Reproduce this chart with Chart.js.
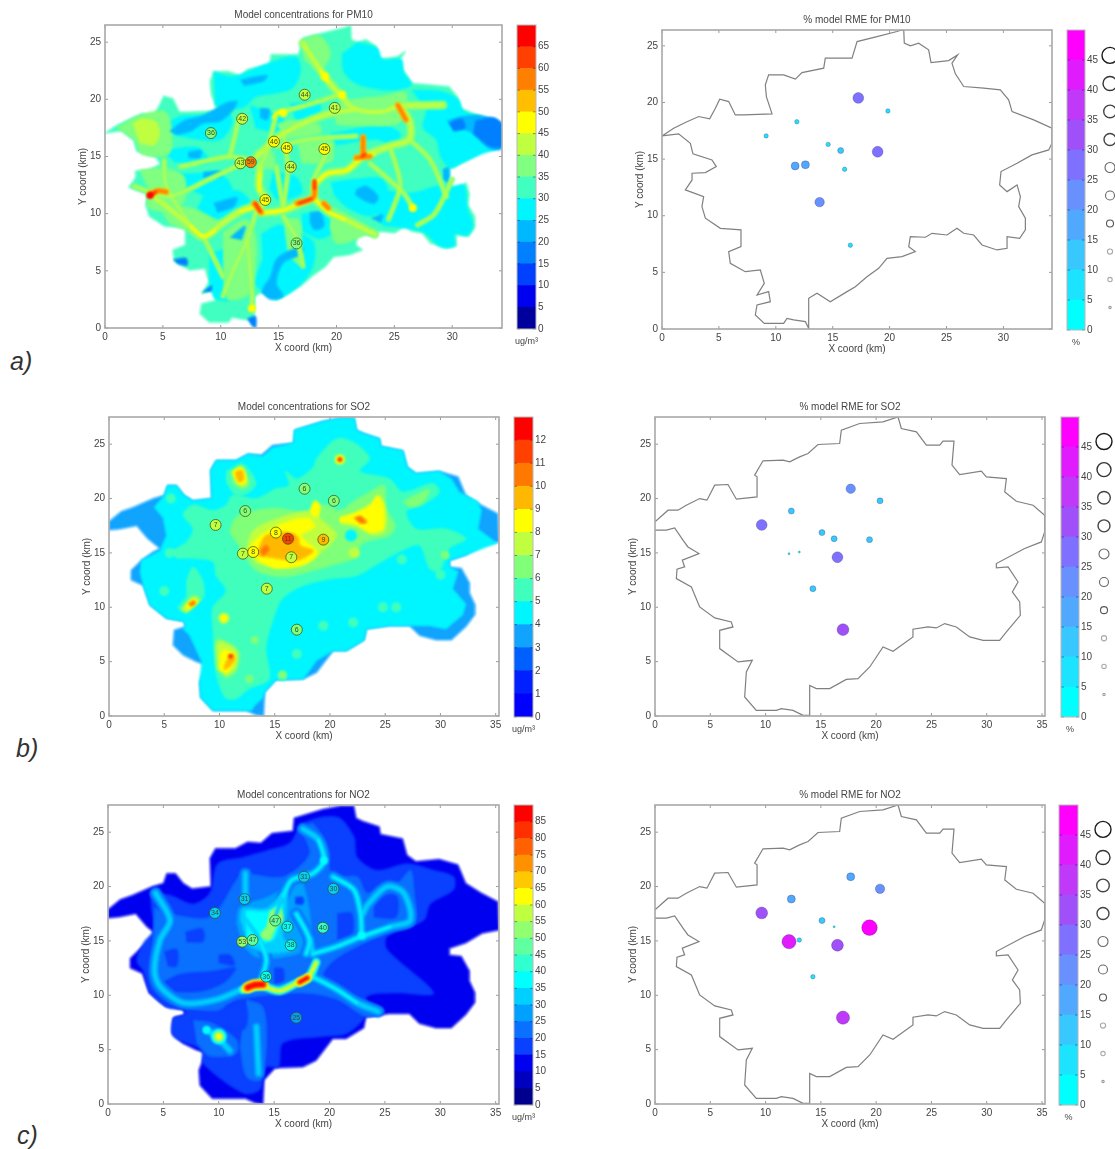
<!DOCTYPE html>
<html>
<head>
<meta charset="utf-8">
<title>Model concentrations and RME</title>
<script src="https://cdn.jsdelivr.net/npm/chart.js@4"></script>
<style>
  html, body { margin: 0; background: #fff; width: 1115px; height: 1149px; overflow: hidden; }
  canvas { position: absolute; filter: blur(.45px); }
  .tag { position: absolute; font: italic 25px "Liberation Sans", Arial, sans-serif; color: #333; }
</style>
</head>
<body>
<div class="tag" style="left:10px;top:347px">a)</div>
<div class="tag" style="left:16px;top:734px">b)</div>
<div class="tag" style="left:17px;top:1121px">c)</div>
<script>
// tick labels
const pmTicks = [0,5,10,15,20,25,30,35,40,45,50,55,60,65];
const so2Ticks = [0,1,2,3,4,5,6,7,8,9,10,11,12];
const no2Ticks = [0,5,10,15,20,25,30,35,40,45,50,55,60,65,70,75,80,85];
const rmeTicks = [0,5,10,15,20,25,30,35,40,45];
const xTicksA = [0,5,10,15,20,25,30];
const xTicksB = [0,5,10,15,20,25,30,35];
const yTicks = [0,5,10,15,20,25];
const legendLevels = [50,45,40,35,30,25,20,15,10,5];

// colour bands, bottom to top
const pmColors = ['#00009c','#0000f0','#0040ff','#0080ff','#00b8ff','#00f6ff','#40ffc0','#80ff80','#c0ff40','#ffff00','#ffbf00','#ff8000','#ff4000','#ff0000'];
const so2Colors = ['#0000ff','#0020ff','#0060ff','#10a4ff','#00f6ff','#40ffbc','#80ff78','#c0ff40','#ffff00','#ffb800','#ff7800','#ff4000','#ff0000'];
const no2Colors = ['#00008f','#0000c0','#0000f0','#0a40ff','#0a70ff','#00a0ff','#00d0ff','#00ffff','#30ffcf','#60ff9f','#90ff70','#c0ff40','#ffff00','#ffc800','#ff9000','#ff6000','#ff3000','#ff0000'];
const rmeColors = ['#00ffff','#1ce3ff','#38c8ff','#50a8ff','#6890ff','#8070ff','#a050f8','#c038f8','#e01cff','#ff00ff'];

// city border (km)
const cityA = [[0,17.05],[1.03,17.73],[2.05,18.23],[3.22,18.76],[4.19,18.55],[4.69,19.49],[5.07,20.29],[5.86,20.08],[6.44,18.9],[7.18,18.9],[9.67,18.99],[9.46,19.64],[9.17,20.52],[9.08,21.55],[9.37,22.44],[10.69,22.44],[11.72,22.06],[12.3,22.64],[14.21,23.03],[14.35,23.91],[16.7,23.91],[17.14,25.38],[18.89,25.82],[20.65,26.27],[21.24,26.47],[21.29,25.24],[21.82,25],[22.55,25.24],[23.43,24.65],[23.64,23.53],[25.19,23.7],[25.98,24.2],[25.48,23.47],[25.78,22.53],[26.51,21.41],[28.27,21.26],[29.73,21.11],[30.46,20.23],[30.76,19.2],[32.66,18.46],[34.27,17.73],[34.27,16.4],[33.98,15.81],[32.51,15.37],[31.2,14.63],[29.79,13.9],[29.67,12.72],[30.32,12.13],[31.2,12.72],[31.49,11.69],[31.34,10.81],[31.93,9.78],[31.93,8.75],[31.43,8.01],[30.32,8.16],[30.32,7.13],[29.44,6.98],[28.12,7.42],[27.39,8.3],[26.51,8.45],[25.92,8.89],[25.04,8.3],[23.73,8.45],[23.14,8.1],[21.82,8.16],[21.68,7.27],[22.26,6.83],[21.09,6.39],[19.77,6.24],[19.04,5.36],[18.01,4.62],[16.99,3.74],[16.26,3.3],[14.79,2.41],[13.62,3.15],[12.89,2.71],[12.89,0.06],[12.6,0.65],[11.57,0.8],[10.98,0.94],[10.69,0.5],[8.99,0.5],[8.2,1.24],[8.35,2.12],[9.52,2.41],[9.37,3.3],[8.35,3],[8.99,4.03],[8.64,5.21],[7.32,5.06],[6,5.8],[5.86,6.83],[6.94,7.27],[6.94,8.75],[5.13,8.89],[3.81,9.78],[3.51,10.81],[3.66,11.69],[2.05,12.28],[2.64,13.16],[2.64,13.75],[3.81,13.81],[4.77,14.34],[4.39,14.93],[2.72,15.46],[2.49,16.4],[1.46,17.23],[0,17.05]];
const cityB = [[0,17.85],[1.18,18.93],[2.08,18.93],[2.83,19.39],[4.04,20],[4.7,19.85],[5.4,21.23],[6.6,21.29],[7.36,19.94],[9.23,20.15],[9.23,22],[9.01,22.15],[9.77,23.47],[11.58,23.53],[12.18,23.37],[13.08,23.83],[13.84,24.14],[14.74,24.97],[16.7,25.06],[16.85,26.29],[18.51,26.9],[20.62,27.06],[21.98,27.5],[22.28,26.44],[23.64,26.13],[24.54,24.91],[25.75,24.91],[26.05,25.28],[27.04,25.28],[26.86,23.07],[27.55,22.21],[29.51,22.52],[29.97,21.99],[31.78,21.84],[31.63,20.61],[32.68,19.75],[34.19,19.39],[35.24,18.47],[35.24,16.93],[34.94,16.01],[33.43,15.4],[30.87,14.02],[30.87,13.62],[31.93,13.71],[32.83,12.33],[32.32,11.41],[32.98,10.49],[33.04,9.26],[31.78,7.73],[31.17,6.96],[29.67,6.96],[28.46,7.27],[27.25,8.19],[26.2,8.5],[25.44,8.1],[24.69,8.19],[23.33,7.98],[23.33,7.27],[21.53,5.95],[20.62,6.35],[19.42,4.51],[18.36,3.44],[17.3,3.37],[15.8,2.52],[14.59,2.52],[13.99,2.82],[13.99,0.06],[13.39,0.06],[12.48,0.52],[11.43,0.67],[10.97,0.52],[9.16,0.52],[8.11,1.75],[8.26,4.05],[8.8,5.12],[7.51,4.97],[5.85,6.2],[5.85,7.88],[7.05,8.19],[6.9,8.65],[5.4,9.02],[4.04,10.03],[3.29,11.87],[1.93,12.64],[1.99,13.5],[2.68,13.71],[2.47,14.33],[3.98,14.94],[2.98,15.55],[2.53,16.17],[1.78,17.3],[1.03,17.09],[0,17.09]];
// the smoother contour edge of the SO2 / NO2 fields
const fieldEdge = [[0,17.9],[1.1,18.8],[2.2,19.2],[4,20],[5,20.3],[5.3,21.2],[6.1,21.2],[6.8,20.3],[7.6,19.8],[9.3,20],[9.2,22.6],[9.7,23.5],[11.5,23.5],[12.6,24.1],[13.8,24],[14.8,24.9],[16.7,25.1],[16.8,26.3],[19.4,27.1],[21,27.4],[22.2,27.4],[22.4,26.3],[23,26],[24.5,25.5],[24.6,24.8],[26.6,24.4],[27,22.9],[27.8,22.3],[29.9,22.5],[31.6,22],[32.3,20.3],[33.7,19.4],[35.2,18.6],[35.3,16],[33.8,15.7],[32.3,14.8],[30.8,14.3],[30.8,13.7],[31.9,13.6],[32.6,12.3],[32.6,11.4],[33.1,10.3],[33.1,9.3],[32.3,8.2],[31,7],[29.6,7],[28.1,7.4],[27.2,8.3],[25.4,8.3],[23.3,8],[23.1,7],[21.5,6],[20.3,6],[18.8,4],[17.6,3.4],[15.1,3.3],[14.1,2.2],[14,0],[13.3,0.1],[12.4,0.5],[9.4,0.5],[8.3,1.7],[8.2,3.1],[8.8,4.7],[7.9,5],[6.7,5.6],[5.8,6.5],[5.9,7.9],[6.9,8.2],[6.8,8.7],[5.2,9],[3.7,10.2],[3.1,12],[2,12.5],[2,13.4],[2.9,14.3],[4,15.1],[4.6,15.4],[3.5,16.3],[2.5,17.5],[1,17.2],[0,17.1]];

// stations
const pmStationX = [17.25,19.85,11.85,9.15,14.6,15.7,18.95,11.7,12.6,16.05,13.85,16.55];
const pmStationY = [20.4,19.25,18.3,17.05,16.3,15.75,15.65,14.4,14.5,14.1,11.2,7.4];
const pmMeasured = [44,41,42,36,46,45,45,43,59,44,45,36];
const pmRme = [27,7,7,7,8,12,27,18,18,7,22,7];
const stationX = [17.7,20.35,12.33,9.65,15.1,16.2,19.4,16.5,12.12,13.05,14.28,17];
const stationY = [20.9,19.79,18.85,17.57,16.87,16.3,16.22,14.6,14.93,15.08,11.71,7.94];
const so2Measured = [6,6,6,7,8,11,9,7,7,8,7,6];
const so2Rme = [21,12,12,28,12,12,12,28,2,2,12,33];
const no2Measured = [31,30,31,34,47,37,40,38,53,47,36,25];
const no2Rme = [18,23,16,32,11,2,47,31,43,8,6,36];

// PM10 field, polygons per band (km)
const pmCyan = [
  [[9.4,22.4],[11,22],[12.5,22.5],[14.2,23.2],[16.5,23.7],[16.9,22.5],[16.2,21],[14.5,20.5],[13,20.2],[12,19.3],[10.5,19.2],[9.5,19.5]],
  [[21.8,25],[23.5,24.5],[24,23.5],[25.6,23.5],[25.8,22.4],[26.5,21.3],[25,20.8],[23,21],[21.5,21.5],[20.6,22.5],[20.5,24]],
  [[26.5,20.8],[29,20.7],[30.5,20],[31,19],[33,18.2],[34.2,17.6],[34.2,15.9],[32.5,15.2],[31,14.5],[29.8,14],[29,15],[28.6,16.5],[27.5,17.5],[27.8,19]],
  [[24.5,12],[26.5,11.8],[29,12.5],[29.7,12.3],[31,12.5],[31.3,10.5],[31.8,9],[31.3,8.1],[30.2,8.2],[30.2,7.2],[29,7.1],[27.5,8.4],[25.5,8.8],[24,9],[23.5,10.2]],
  [[13.5,8.2],[15,9],[16.5,8.5],[18,7.5],[18,5.5],[17,3.9],[15,2.6],[13.6,3.2],[13,4],[13.6,6]],
  [[9,6.5],[11,7],[12.5,6.5],[12.3,4],[11,2.5],[9.5,2.6],[9,4.1]],
  [[5.5,17],[8,16.5],[10,16.5],[11,18],[10.5,19],[8.5,18.6],[6.5,18.5],[5.5,18]],
  [[5,13.8],[7,13.5],[10,13.5],[11,12],[9,11.5],[6.5,12.5]],
  [[8.5,11.6],[11.5,12],[12.5,11],[11.5,10],[9,9.6],[8,10.5]],
  [[14.5,13.6],[16.5,13.2],[17,11.8],[15,11.2],[14.2,12.2]],
  [[19.5,12.7],[21.5,13],[24,13],[24.5,11],[23,9.8],[21,10.5],[19.8,11.6]],
  [[17,10],[19,10],[19.8,8.5],[18.5,7.8],[17,8.5]],
  [[12.5,19.5],[15.5,18.2],[14.8,17.2],[13,17.5]],
  [[16,19.6],[18.5,19.7],[18.5,18.6],[16.5,18]],
  [[19.5,17],[24,17.7],[25.5,17],[25,15.8],[23.5,16.5],[20,16]],
  [[5,15.5],[8,15.8],[9,14.5],[6,14.5]]
];
const pmSky = [
  [[5.6,17.2],[6.8,18.1],[8.5,18.6],[10.5,19.7],[11.4,19.8],[11.1,19.1],[10,18.1],[8.5,17.9],[7.4,17.2],[6.2,16.9]],
  [[29.5,18.1],[30.9,18.5],[32.4,18.6],[34.3,17.8],[34.3,15.7],[33.2,15.7],[31.8,17],[30.1,17.7]],
  [[13.7,3.6],[14.3,4.5],[14.8,6],[16,6.8],[17.1,7],[16.9,6.4],[15.4,5.7],[14.8,3.9],[15.4,2.8],[14.3,2.5],[13.5,3.1]],
  [[21.7,12.1],[22.6,12.4],[23.6,11.5],[23.3,10.9],[22.3,11.2],[21.6,11.7]],
  [[17.7,10.1],[18.6,10.1],[18.9,8.9],[18.1,8.6],[17.7,9.3]],
  [[9.4,10.9],[11.4,11.4],[11.1,10.6],[9.7,10.1]],
  [[10.8,7.9],[12.1,8.9],[11.8,7.7]],
  [[13.4,19.2],[14.2,19.1],[14,18.2],[13.4,18.4]],
  [[11.7,21.7],[14,22.1],[13.7,21.6],[12,21.2]],
  [[8.5,13.6],[10,13.7],[10,13.2],[8.5,13.1]],
  [[7.2,15.4],[8.3,15.5],[8.2,14.9],[7.2,14.9]],
  [[29.2,13.9],[29.7,14],[29.7,12.7],[29.2,13]],
  [[23,9.6],[24,9.9],[23.8,9.2]]
];
const pmBlue = [
  [[32,18.1],[33.5,18.4],[34.3,17.8],[34.3,15.9],[33.2,15.9],[31.8,17]],
  [[29.7,17.9],[30.8,18.3],[31.1,17.5],[30.1,17.2]],
  [[5.9,6],[7,6.1],[7.1,5.5],[6.3,5.6]],
  [[8.4,3.1],[9.2,3.7],[9.2,3.2]],
  [[12.3,0.8],[13,1],[13,0],[12.6,0.3]]
];
const pmGreenAreas = [
  [[1,17.5],[3,18.6],[5.2,18.9],[5.8,17],[5.5,15.2],[3.2,15.2],[2.6,16.4]],
  [[17,25.2],[18.5,25.6],[19.5,24],[18.5,22.5],[17.2,23.5]],
  [[3,13.8],[5,14],[6.8,13.3],[6.8,11],[5.2,10.2],[3.7,10.6],[3.8,12]],
  [[4.8,10.4],[7,10.6],[9,9.8],[10,9],[8.5,7.6],[7,8.5],[5.5,9.2]],
  [[10.2,8.4],[12.2,9.5],[13,8],[13,5.2],[12.5,3],[10.6,2.5],[10.2,5]],
  [[15.4,9.6],[16.8,9.4],[17,7.2],[17,5.4],[15.8,6.4]],
  [[19.6,10.6],[21.2,9.8],[22.8,8.6],[21.8,7.8],[20,7.4],[19.4,8.8]],
  [[16.6,16.4],[19.4,16.6],[19.6,14.6],[17,14.4]],
  [[19.5,19.3],[21.5,20],[24,20.3],[26,20.6],[25.5,18],[22,17.7],[20,17.8]],
  [[14.8,17.8],[16,18.2],[18.5,17.8],[18.6,17],[15.8,16.5]],
  [[13,15.5],[14.4,15.5],[14.6,14],[13.4,14]]
];
const pmLimeAreas = [
  [[2.4,17.9],[3.2,18.3],[4.4,18],[4.7,16.9],[4.2,16],[3,16.2]]
];
const pmMainRoads = [
  [[3.9,11.7],[5.5,10.5],[7.4,8.9],[8.5,8],[10.2,9.2],[11.7,10.2],[13.1,10.6],[13.5,10.1],[15.4,10.3],[16.9,10.9],[18,11.4],[18.1,12.5],[19.2,13.5],[20.9,13.8],[22.3,15],[24.6,15.9],[26.3,16.5],[26.3,18.2],[25.5,19.4]],
  [[17.1,24.9],[19,22],[20.3,20.4],[21.5,19.2],[23.8,18.9],[25.5,19.4],[29.2,19.5]],
  [[18,11.4],[19.4,10.1],[20.7,9.5],[23.3,8.2]],
  [[13.4,14.1],[13.3,12.4],[13.8,11.2],[13.3,10.5]],
  [[13.1,15],[15.4,17],[18.9,18.6],[21.5,19.1]]
];
const pmSideRoads = [
  [[13.1,10.3],[12.3,7.7],[11.1,5.1],[10.2,2.8]],
  [[14.8,14.1],[15.4,10.6]],
  [[12.5,14.7],[10.8,15],[6.5,14.1]],
  [[14.8,18.8],[17.1,19.4],[20.3,20.4]],
  [[22.9,14.4],[25.8,11.8],[26.6,10.5]],
  [[14.8,15.9],[17.7,16.5],[21.7,16.8]],
  [[5.1,14.7],[5.3,12.4],[7.4,8.9]],
  [[15.4,9.8],[16.6,7.7],[17.1,5.4]],
  [[8.5,8],[10.2,4.5]],
  [[12.7,1.8],[12.7,3.1],[12.5,5.4],[12.3,7.7]],
  [[26.3,16.5],[28.1,14.7],[29.5,11.5]],
  [[2.5,12.4],[5.5,11.5],[9,13],[12.5,14.7]],
  [[24.6,15.9],[25.5,12.5],[24.5,9.5]],
  [[14.8,18.8],[14,15.5],[13.4,14.1]],
  [[15.4,17],[15.8,14],[15.4,10.6]],
  [[10.8,15],[11.5,18]],
  [[30,13],[28.5,10],[27,9]],
  [[19.5,16],[18,13]]
];
const pmYellowRoads = [
  [[7.4,8.9],[8.5,8],[9.5,8.5]],
  [[11.7,10.2],[13.1,10.6]],
  [[13.5,10.1],[15.4,10.3],[16.9,10.9]],
  [[18,11.4],[19.4,10.1],[20.7,9.5]],
  [[18.1,12.5],[19.2,13.5],[20.9,13.8],[22.3,15],[23.3,15.2]],
  [[25.3,19.5],[26,18.2]],
  [[18.6,22.5],[19.3,21.5]],
  [[14.5,18.4],[15.2,19]],
  [[13.3,12],[13.4,13.5]]
];
const pmHotRoads = [
  [[3.9,11.7],[4.6,12],[5.3,11.9]],
  [[12.9,10.9],[13.5,10.1]],
  [[16.6,10.9],[18,11.4],[18.1,12.7]],
  [[18.9,10.9],[19.3,10.5]],
  [[22.3,16.7],[22.3,15.1]],
  [[21.7,14.9],[22.9,15]],
  [[25.3,19.5],[26,18.2]]
];
const pmCoreRoads = [
  [[3.8,11.5],[4.4,11.9]],
  [[13,10.9],[13.4,10.2]],
  [[16.8,10.9],[17.8,11.3]],
  [[18.1,12.2],[18.1,12.9]],
  [[22.2,15],[22.5,15.2]]
];
const pmYellowSpots = [[19,22],[26.6,10.5],[12.7,1.7],[15.4,18.8],[20.5,20.4]];
const pmRedSpots = [[3.9,11.6]];

// SO2 field
const so2Cyan = [[[2.9,14.3],[4.6,15.2],[5.2,16.6],[4.9,18.2],[4.1,19.2],[5,20.3],[5.3,21.2],[6.1,21.2],[6.8,20.3],[7.6,19.8],[9.3,20],[9.2,22.6],[9.7,23.5],[11.5,23.5],[12.6,24.1],[13.9,23.9],[14.8,24.7],[16.7,25.1],[16.8,26.3],[19.4,27.1],[21,27.4],[22.2,27.4],[22.4,26.3],[23,26],[24.5,25.5],[24.6,24.8],[26.6,24.4],[27,22.9],[27.8,22.3],[29.9,22.5],[31,21.8],[31.7,20.6],[33.4,19.7],[33.7,18.9],[33.4,17.2],[35.1,15.9],[32.3,14.8],[30.8,14.3],[30.8,13.7],[31.6,13.3],[31.1,11.7],[32.3,10.3],[32,9.3],[30.5,8],[29,8.3],[27.5,8.3],[25.4,8.3],[23.3,8],[23.1,7],[21.5,6],[20.3,6],[18.8,5.1],[17.6,3.4],[15.1,3.3],[14.1,2.2],[13.9,1.6],[13.2,1],[12.9,0.5],[9.4,0.5],[8.3,1.7],[8.2,3.1],[8.4,5],[7.3,7.4],[6.7,8],[6.9,8.2],[6.8,8.7],[5.2,9],[3.7,10.2],[3.1,12],[2.8,13.3]]];
const so2Mint = [
  [[5.5,15.1],[7,16],[7.6,17.2],[6.7,18.5],[7.6,19.4],[9.4,18.9],[10.6,19.4],[11.2,20.3],[13.3,20],[15.1,20.9],[16.3,21.2],[16,22.5],[17,21.8],[18.5,22.9],[18.8,23.7],[20.6,25.5],[22.1,25.2],[23.6,23.7],[22.7,22.5],[25.4,21.8],[26.6,20.6],[29.3,21.4],[29.9,20.6],[28.4,19.4],[26.9,18.8],[27.8,17.2],[30.5,17.2],[32.3,16.3],[30.8,15.4],[29.9,13.3],[29,13.6],[28.1,15.7],[26.3,15.1],[24.2,13.9],[22.4,12.9],[20,12.6],[17.6,12],[15.7,10.8],[14.8,8.7],[14.2,6.2],[14.5,3.4],[12.7,2.5],[11.5,1.6],[10.5,1.7],[9.7,4],[9.4,8],[9.4,10],[10.6,11.5],[9.7,12.9],[9.4,14.2],[7.3,14.5],[6.1,14.5]],
  [[10.6,22.5],[12.1,23.2],[13.3,21.5],[12.7,20.6],[11.5,20.3],[10.6,21.5]],
  [[7,12.4],[7.6,13.7],[8.5,12.4],[8.5,10.8],[6.7,9.9],[6.2,9.9],[7,11]]
];
const so2Green = [
  [[10.9,16.9],[11.5,18.3],[13.3,18.9],[15.1,19.1],[17.6,18.8],[19.4,19.4],[20.9,18.9],[22.1,19.7],[23.6,20.6],[24.9,21.2],[25.1,19.1],[25.9,17.5],[25.4,16.6],[23,15.9],[22.1,14.5],[20.3,13.9],[18.2,13.3],[15.7,12.8],[13.3,13.4],[12.1,15.1]],
  [[11,22.4],[12,23],[12.7,21.3],[12,20.9],[11.2,21.4]],
  [[6.4,9.7],[7.6,11.1],[8.3,10.7],[7,9.4]],
  [[9.7,4.3],[9.7,7],[10.9,6.7],[11.8,5.9],[11.5,4.1],[10.6,3.4]],
  [[26.6,19.7],[27.9,20.4],[29,20.8],[28.4,19.6],[27.2,19.2]]
];
const so2Lime = [
  [[12.4,15.2],[13,17],[15.4,18.2],[18.2,18.8],[19.4,17.9],[20.6,16.6],[18.9,14.8],[17.6,13.9],[15.1,13.6],[13.3,14.1]],
  [[20.9,18.3],[22.4,18.8],[23.7,19.6],[24.4,20.4],[25,19.4],[25,17],[23.7,16.7],[22.4,17.4],[20.9,17.7]],
  [[9.9,4.5],[9.9,6.8],[10.9,6.5],[11.6,5.8],[11.4,4.3],[10.6,3.7]],
  [[6.6,9.8],[7.6,10.9],[8.1,10.6],[7.1,9.6]],
  [[11.1,22.4],[12,22.9],[12.5,21.5],[12,21.1],[11.4,21.7]]
];
const so2Yellow = [
  [[12.7,15.5],[13.6,16.5],[15.7,17.7],[18,18.2],[18.6,17.4],[17.4,16.6],[18.9,15],[17.6,13.9],[15.1,13.6],[13.6,14.2]],
  [[20.9,18.2],[22.4,18.7],[23.7,19.4],[24.3,20.2],[24.8,19.4],[24.8,17.2],[23.7,16.9],[22.4,17.6],[20.9,17.9]],
  [[18.2,18.9],[18.6,19.8],[19.1,19.4],[18.9,18.3],[18.3,18.5]],
  [[10,4.2],[10.2,6],[10.8,6],[11.4,5.6],[11.2,4.6],[10.6,3.9]],
  [[6.9,10],[7.6,10.7],[8,10.5],[7.2,9.8]],
  [[11.2,22.5],[12,22.8],[12.4,21.6],[11.8,21.3],[11.4,21.9]]
];
const so2Amber = [
  [[13.6,15.6],[14.2,16.6],[16,16.9],[17.1,16.5],[17.3,15.7],[18.5,15.2],[17,14.3],[15.1,14.5],[13.2,14.8]],
  [[11.4,22.4],[12,22.6],[12.2,21.8],[11.8,21.5],[11.5,22]],
  [[22.1,18.2],[22.8,18.4],[23.4,17.8],[22.7,17.7]],
  [[10.4,4.2],[10.6,5],[11.2,5.7],[11.4,5.2],[10.9,4.5]]
];
const so2Orange = [
  [[13.7,15.2],[14.2,15.7],[14.5,15.3],[13.9,14.7]],
  [[16,16.8],[16.7,16.6],[16.6,16],[16,16]],
  [[22.3,18.2],[22.8,18.3],[23.2,17.8],[22.7,17.8]],
  [[7.2,10.3],[7.7,10.6],[7.8,10.3],[7.4,10.1]]
];
const so2MintSpots = [[24.8,10],[26,10],[22.1,8.6],[19.4,8.3],[17,5.7],[15.7,3.7],[13.2,7],[30.4,14.8],[30,13],[5,11.5],[5.6,20],[10.5,12.8],[26.5,14.4],[5.5,15]];
const so2GreenSpots = [[27.7,19.7],[22.2,15],[30.4,14.8],[13.2,7],[15.7,3.8],[12.7,3.4],[20.9,23.6]];
const so2YellowSpots = [[10.4,9],[20.9,23.6]];
const so2LimeSpots = [[10.4,9],[20.9,23.6],[22.2,15]];
const so2RedSpots = [[20.9,23.6],[11,5.5]];
const so2CyanHoles = [[21.9,16.6]];

// NO2 field
const no2Band15 = [
  [[3.8,19.4],[5.6,19.2],[7.7,18.4],[9.2,19.4],[9.9,22.1],[12.2,22.7],[14.3,23.3],[16.4,24],[17.6,25.8],[20.7,26.4],[22.2,24.6],[22.5,22.7],[24.3,21.5],[27,22.1],[29.4,21.5],[31.2,20.9],[31.2,19.7],[29.1,18.4],[28.5,16.9],[25.2,15.4],[25.2,14.2],[29.4,10.2],[26.1,10.2],[23.4,9.9],[23.4,8.3],[21.6,6.5],[19.4,6.2],[15.8,5.6],[15.4,3.4],[14.3,3.4],[13.7,1.3],[12.2,1],[8.6,3.7],[8.4,5],[5.9,6.2],[5.9,7.9],[6.9,8.2],[6.9,8.6],[5.3,8.9],[3.8,10.3],[3.2,12.2],[2.6,13.2],[3.2,14.8],[4.1,16],[3.9,18.1]]
];
const no2Band20 = [
  [[5.3,17.5],[9.2,17.2],[11.6,20.6],[12.1,21.2],[15.8,20.9],[18.2,23],[17.6,25.2],[18.5,25.8],[19.7,23.7],[20.3,20.9],[22.5,20.9],[23.4,19.4],[26.1,20.3],[27.3,21.5],[27.6,20],[27.6,16.6],[25.5,16],[23.1,14.8],[20.4,13.2],[19.4,11.7],[21.6,10.2],[24.9,8.6],[23.4,8],[20.7,9.6],[17.6,10.2],[11.6,9.6],[9.8,8.6],[5.6,9.3],[3.9,11.1],[4.1,15.1],[4.2,18.1]],
  [[12.5,9.6],[14,8.9],[14.3,5.3],[13.7,2.2],[12.5,2.5],[11.9,5.3]],
  [[7.7,7.7],[9.5,7.4],[11.6,5.9],[11.6,4.7],[9.2,4.4],[8,5.6]]
];
const no2Band25 = [
  [[11.6,16.6],[11.9,18.1],[14.3,19],[16.1,19.9],[17.6,20.3],[18.2,14.5],[15.8,13.5],[13.4,13.5],[12.2,14.5]]
];
const no2Holes = [
  [[5,11.2],[6.5,11.9],[9.5,12.2],[11.5,12.5],[10.5,11.2],[8.5,10.4],[6,10.3]],
  [[7,15.8],[8.5,16.1],[8.6,15],[7.1,14.9]],
  [[5.1,14],[6.2,14.2],[6.2,12.7],[5.4,12.7]],
  [[10,13.7],[11,13.7],[11.4,12.8],[10,13]],
  [[15,12.5],[15.8,12.4],[15.8,11.2],[15,11]],
  [[16.9,19],[17.6,19],[17.6,18.4],[16.9,18.4]],
  [[20.7,17.5],[22,17.5],[22,15.5],[20.7,15]],
  [[10.7,9],[12.4,9.2],[12.4,7],[10.8,6.9]],
  [[24,19],[26,19.2],[26,17.2],[24,17.2]]
];
const no2Band30 = [
  [[11.9,16.9],[12.2,18],[14.3,18],[16.1,19.7],[16.1,17.5],[15.8,15.4],[16.7,14.2],[14.3,13.9],[12.8,14.5]]
];
const no2Band35 = [
  [[12.5,17.1],[12.5,17.7],[14.3,17.7],[15.7,18.4],[15.4,16.3],[14.9,15.1],[13.4,14.8],[12.5,15.1]]
];
const no2Band50 = [
  [[14.6,17.7],[15.5,18.1],[15.8,16.9],[15.2,16.3],[14.6,15.1],[13.7,15.4],[14.3,16.3]]
];
const no2Roads = [
  [[17.6,25.3],[19,24.3],[19.5,22.4],[18.5,21.2],[16.6,20.6],[15.8,19.1],[15.2,17.5]],
  [[20.3,20.9],[22.2,19.7],[22.8,17.5],[22.9,15.5]],
  [[23.1,15.4],[25.5,16.3],[27.3,16.9],[26.7,19.4],[25.2,20],[23.5,18.4],[23,17.5]],
  [[18.5,13.8],[20.7,14.5],[23.1,15.5]],
  [[18.8,13.2],[18.5,11.7]],
  [[18.5,11.7],[20.7,10.5],[22.5,9.3],[24.4,8.5]],
  [[12.2,10.6],[13.7,11.1],[15.2,10.5],[17.6,11.4],[18.5,11.7]],
  [[12.2,10.6],[9.8,9.6],[6.8,9.3],[4.7,10.8],[4.2,12.3],[4.7,15.1],[5.6,16.9],[4.3,19.4]],
  [[13.7,11.1],[14.3,13.2],[13.7,15.1],[12.5,16.9]],
  [[8.9,6.8],[9.8,6.2],[11,4.9]],
  [[13.4,7.1],[13.6,2.8]],
  [[17,17.5],[18.2,15.1],[17.9,13.8]],
  [[12.4,21.2],[12.4,18.8]],
  [[18.2,15.1],[18.5,13.8]]
];
const no2BrightRoads = [
  [[19,24.3],[19.5,22.4],[18.5,21.2],[16.6,20.6],[15.8,19.1]],
  [[20.3,20.9],[22.2,19.7],[22.8,17.5],[22.9,15.5]],
  [[18.5,13.8],[20.7,14.5],[23.1,15.5],[25.5,16.3]],
  [[18.5,11.7],[20.7,10.5],[22.5,9.3]],
  [[13.7,11.1],[14.3,13.2],[13.7,15.1]],
  [[17,17.5],[18.2,15.1],[17.9,13.8]]
];
const no2Strip = [[[12.2,10.5],[13.9,10.8],[15.5,10.4],[17,11.1],[18,11.5],[18.8,13]]];
const no2HotWest = [[[12.6,10.7],[13.2,10.95],[14,11]]];
const no2HotEast = [[[17.3,11.2],[18,11.6]]];
const no2SwSpot = [[10,6.2]];
const no2CyanSpots = [[8.9,6.8],[22.9,15.5],[19.5,22.4]];

// styling of the small markers, by RME band
const markerRadius = [1,2.2,3,4,4.7,5.4,5.9,6.6,7.1,7.8];
const legendRadius = [8,7,6.3,6,5,4.5,3.5,2.6,2.2,1.2];
const legendStroke = ['#1a1a1a','#333','#444','#444','#666','#666','#555','#aaa','#aaa','#999'];

const pts = list => list.map(([x, y]) => ({x, y}));
const band = (colors, step, v) => colors[Math.min(colors.length - 1, Math.floor(v / step))];

const polys = (list, color, tension = .3) => list.map(p => ({
  showLine: true, fill: 'shape', tension, data: pts(p), pointRadius: 0,
  backgroundColor: color, borderColor: color, borderWidth: .6
}));
const lines = (list, color, width) => list.map(l => ({
  showLine: true, fill: false, tension: .3, data: pts(l), pointRadius: 0,
  borderColor: color, borderWidth: width, borderCapStyle: 'round', borderJoinStyle: 'round'
}));
const spots = (list, color, radius) => ({
  data: pts(list), pointRadius: radius, backgroundColor: color, borderWidth: 0
});

// frame and MATLAB style inward ticks
const framePlugin = {
  id: 'frame',
  afterDraw(chart) {
    const {ctx, chartArea: a, scales} = chart;
    ctx.save();
    const dark = chart.config.type === 'bar';
    ctx.strokeStyle = dark ? 'rgba(0,0,90,.4)' : '#9a9a9a';
    ctx.lineWidth = 1;
    for (const s of Object.values(scales)) {
      if (s.type !== 'linear' || s.id === 'x2') continue;
      for (const t of s.ticks) {
        const p = s.getPixelForValue(t.value);
        ctx.beginPath();
        if (s.axis === 'x') {
          ctx.moveTo(p, a.bottom); ctx.lineTo(p, a.bottom - 3);
          ctx.moveTo(p, a.top); ctx.lineTo(p, a.top + 3);
        } else {
          ctx.moveTo(a.left, p); ctx.lineTo(a.left + 3, p);
          ctx.moveTo(a.right, p); ctx.lineTo(a.right - 3, p);
        }
        ctx.stroke();
      }
    }
    ctx.strokeStyle = dark ? '#b8b8b8' : '#a8a8a8';
    ctx.lineWidth = dark ? 1 : 1.6;
    ctx.strokeRect(a.left, a.top, a.right - a.left, a.bottom - a.top);
    ctx.restore();
  }
};

// softens the contour edges of the concentration fields; dataset 0 (stations) stays sharp
const softField = {
  id: 'softField',
  beforeDatasetsDraw(chart, args, opts) {
    if (opts.blur) chart.ctx.filter = 'blur(' + opts.blur + 'px)';
  },
  beforeDatasetDraw(chart, args) {
    if (args.index === 0) chart.ctx.filter = 'none';
  },
  afterDatasetsDraw(chart) {
    chart.ctx.filter = 'none';
  }
};

// numbers inside the station circles
const stationText = {
  id: 'stationText',
  afterDatasetsDraw(chart, args, opts) {
    if (!opts.labels) return;
    const {ctx} = chart;
    const meta = chart.getDatasetMeta(0);
    ctx.save();
    ctx.font = '7px "Liberation Sans"';
    ctx.fillStyle = '#3c4a20';
    ctx.textAlign = 'center';
    ctx.textBaseline = 'middle';
    meta.data.forEach((el, i) => ctx.fillText(opts.labels[i], el.x, el.y));
    ctx.restore();
  }
};

function addCanvas(left, top, width, height) {
  const c = document.createElement('canvas');
  c.width = width;
  c.height = height;
  c.style.left = left + 'px';
  c.style.top = top + 'px';
  document.body.appendChild(c);
  return c.getContext('2d');
}

const common = {
  responsive: false,
  animation: false,
  events: []
};

function mapChart(box, title, xMax, yMax, xTicks, layers, labels) {
  const W = box.right - box.left, H = box.bottom - box.top;
  const tickFont = {family: '"Liberation Sans"', size: 10};
  const fixedTicks = list => s => { s.ticks = list.map(v => ({value: v})); };
  new Chart(addCanvas(box.left - 50, box.top - 20, W + 100, H + 50), {
    type: 'scatter',
    data: {datasets: layers.slice().reverse()},
    options: {
      ...common,
      layout: {padding: {right: 50}},
      scales: {
        x: {
          type: 'linear', min: 0, max: xMax,
          grid: {display: false, drawTicks: false}, border: {display: false},
          afterBuildTicks: fixedTicks(xTicks),
          afterFit: s => { s.height = 30; },
          ticks: {color: '#444', font: tickFont, padding: 3, maxRotation: 0, autoSkip: false},
          title: {display: true, text: 'X coord (km)', color: '#444', font: tickFont, padding: {top: 0, bottom: 4}}
        },
        // top axis only carries the panel title, so it centres on the plot
        x2: {
          type: 'linear', position: 'top', min: 0, max: 1,
          grid: {display: false, drawTicks: false}, border: {display: false},
          afterFit: s => { s.height = 20; },
          ticks: {display: false},
          title: {display: true, text: title, color: '#444', font: tickFont, padding: {top: 4, bottom: 4}}
        },
        y: {
          type: 'linear', min: 0, max: yMax,
          grid: {display: false, drawTicks: false}, border: {display: false},
          afterBuildTicks: fixedTicks(yTicks),
          afterFit: s => { s.width = 50; },
          ticks: {color: '#444', font: tickFont, padding: 4, autoSkip: false},
          title: {display: true, text: 'Y coord (km)', color: '#444', font: tickFont, padding: {top: 22, bottom: 0}}
        }
      },
      plugins: {
        legend: {display: false},
        tooltip: {enabled: false},
        softField: {blur: labels ? 1 : 0},
        stationText: {labels}
      }
    },
    plugins: [softField, framePlugin, stationText]
  });
}

function colorBar(box, colors, step, ticks, unit) {
  const W = box.right - box.left, H = box.bottom - box.top;
  const tickFont = {family: '"Liberation Sans"', size: 10};
  new Chart(addCanvas(box.left - 10, box.top - 6, W + 40, H + 6 + 24), {
    type: 'bar',
    data: {
      labels: [unit],
      datasets: colors.map(c => ({data: [step], backgroundColor: c, barPercentage: 1, categoryPercentage: 1}))
    },
    options: {
      ...common,
      layout: {padding: {top: 6, left: 10}},
      scales: {
        x: {
          stacked: true, grid: {display: false, drawTicks: false}, border: {display: false},
          afterFit: s => { s.height = 24; s.paddingLeft = 0; s.paddingRight = 0; },
          ticks: {color: '#444', font: {...tickFont, size: 9}, padding: 7, maxRotation: 0}
        },
        y: {
          stacked: true, position: 'right', min: 0, max: step * colors.length,
          grid: {display: false, drawTicks: false}, border: {display: false},
          afterBuildTicks: s => { s.ticks = ticks.map(v => ({value: v})); },
          afterFit: s => { s.width = 30; s.paddingTop = 0; s.paddingBottom = 0; },
          ticks: {color: '#444', font: tickFont, padding: 2, autoSkip: false}
        }
      },
      plugins: {legend: {display: false}, tooltip: {enabled: false}}
    },
    plugins: [framePlugin]
  });
}

function sizeLegend(cx, firstY, spacing) {
  new Chart(addCanvas(cx - 15, Math.round(firstY - spacing), 30, Math.round(spacing * 11)), {
    type: 'scatter',
    data: {
      datasets: [{
        data: legendLevels.map(v => ({x: 1, y: v})),
        clip: false,
        pointRadius: legendRadius,
        pointBackgroundColor: 'rgba(0,0,0,0)',
        pointBorderColor: legendStroke,
        pointBorderWidth: legendStroke.map((c, i) => i < 4 ? 1.4 : 1.1)
      }]
    },
    options: {
      ...common,
      scales: {
        x: {type: 'linear', display: false, min: 0, max: 2},
        y: {type: 'linear', display: false, min: 0, max: 55}
      },
      plugins: {legend: {display: false}, tooltip: {enabled: false}}
    }
  });
}

function rmeMap(box, title, xMax, yMax, xTicks, outline, sx, sy, rme) {
  const markers = {
    data: sx.map((x, i) => ({x, y: sy[i]})),
    pointRadius: rme.map(v => markerRadius[Math.floor(v / 5)]),
    pointBackgroundColor: rme.map(v => band(rmeColors, 5, v)),
    pointBorderColor: 'rgba(50,50,110,.45)',
    pointBorderWidth: .7
  };
  const border = {
    showLine: true, fill: false, tension: 0, data: pts(outline), pointRadius: 0,
    borderColor: '#808080', borderWidth: 1.2
  };
  mapChart(box, title, xMax, yMax, xTicks, [border, markers]);
}

function stationLayer(sx, sy, values, colors, step) {
  return {
    data: sx.map((x, i) => ({x, y: sy[i]})),
    pointRadius: 5.5,
    pointBackgroundColor: values.map(v => band(colors, step, v)),
    pointBorderColor: 'rgba(70,80,20,.85)',
    pointBorderWidth: .9
  };
}

// a) PM10
const c = pmColors;
mapChart({left: 105, right: 502, top: 25, bottom: 328}, 'Model concentrations for PM10', 34.3, 26.5, xTicksA, [
  ...polys([cityA], c[6], 0),
  ...polys(pmCyan, c[5]),
  ...polys(pmGreenAreas, c[7]),
  ...polys(pmLimeAreas, c[8]),
  ...polys(pmSky, c[4]),
  ...polys(pmBlue, c[3]),
  ...lines(pmSideRoads, c[7], 5.5),
  ...lines(pmMainRoads, c[7], 9),
  ...lines(pmSideRoads, c[8], 2),
  ...lines(pmMainRoads, c[8], 4.5),
  ...lines(pmYellowRoads, c[9], 2.5),
  ...lines(pmHotRoads, c[10], 6),
  ...lines(pmHotRoads, c[11], 3.5),
  ...lines(pmCoreRoads, c[12], 3),
  spots(pmYellowSpots, c[9], 4),
  spots(pmRedSpots, c[13], 3.5),
  stationLayer(pmStationX, pmStationY, pmMeasured, pmColors, 5)
], pmMeasured);
colorBar({left: 517, right: 536, top: 25, bottom: 329}, pmColors, 5, pmTicks, 'ug/m³');
rmeMap({left: 662, right: 1052, top: 30, bottom: 329}, '% model RME for PM10', 34.27, 26.4, xTicksA, cityA, pmStationX, pmStationY, pmRme);
colorBar({left: 1067, right: 1085, top: 30, bottom: 330}, rmeColors, 5, rmeTicks, '%');
sizeLegend(1110, 48, 29.7);

// b) SO2
const s = so2Colors;
mapChart({left: 109, right: 499, top: 417, bottom: 716}, 'Model concentrations for SO2', 35.3, 27.5, xTicksB, [
  ...polys([fieldEdge], s[3], 0),
  ...polys(so2Cyan, s[4], 0),
  ...polys(so2Mint, s[5]),
  spots(so2MintSpots, s[5], 5),
  ...polys(so2Green, s[6]),
  spots(so2GreenSpots, s[6], 4),
  spots(so2CyanHoles, s[4], 6),
  ...polys(so2Lime, s[7]),
  spots(so2LimeSpots, s[7], 5.5),
  ...polys(so2Yellow, s[8]),
  spots(so2YellowSpots, s[8], 3.5),
  ...polys(so2Amber, s[9]),
  ...polys(so2Orange, s[10]),
  spots(so2RedSpots, s[11], 2.5),
  stationLayer(stationX, stationY, so2Measured, so2Colors, 1)
], so2Measured);
colorBar({left: 514, right: 533, top: 417, bottom: 717}, so2Colors, 1, so2Ticks, 'ug/m³');
rmeMap({left: 655, right: 1045, top: 417, bottom: 716}, '% model RME for SO2', 35.27, 27.5, xTicksB, cityB, stationX, stationY, so2Rme);
colorBar({left: 1061, right: 1079, top: 417, bottom: 717}, rmeColors, 5, rmeTicks, '%');
sizeLegend(1104, 434, 29.8);

// c) NO2
const n = no2Colors;
mapChart({left: 108, right: 499, top: 805, bottom: 1104}, 'Model concentrations for NO2', 35.3, 27.5, xTicksB, [
  ...polys([fieldEdge], n[2], 0),
  ...polys(no2Band15, n[3]),
  ...polys(no2Band20, n[4]),
  ...polys(no2Band25, n[5]),
  ...polys(no2Holes, n[3]),
  ...lines(no2Roads, n[4], 12),
  ...lines(no2Roads, n[5], 8),
  ...polys(no2Band30, n[6]),
  ...polys(no2Band35, n[7]),
  ...polys(no2Band50, n[10]),
  ...lines(no2Roads, n[6], 4),
  ...lines(no2BrightRoads, n[7], 2),
  ...lines(no2Strip, n[8], 8),
  ...lines(no2Strip, n[10], 4),
  ...lines(no2Strip, n[12], 2),
  spots(no2CyanSpots, n[7], 4),
  spots(no2SwSpot, n[7], 8),
  spots(no2SwSpot, n[10], 5.5),
  spots(no2SwSpot, n[12], 3),
  ...lines(no2HotWest, n[12], 11),
  ...lines(no2HotWest, n[14], 8),
  ...lines(no2HotWest, n[16], 5),
  ...lines(no2HotWest, n[17], 3),
  ...lines(no2HotEast, n[12], 9),
  ...lines(no2HotEast, n[14], 6),
  ...lines(no2HotEast, n[17], 3),
  stationLayer(stationX, stationY, no2Measured, no2Colors, 5)
], no2Measured);
colorBar({left: 514, right: 533, top: 805, bottom: 1105}, no2Colors, 5, no2Ticks, 'ug/m³');
rmeMap({left: 655, right: 1045, top: 805, bottom: 1104}, '% model RME for NO2', 35.27, 27.5, xTicksB, cityB, stationX, stationY, no2Rme);
colorBar({left: 1059, right: 1078, top: 805, bottom: 1105}, rmeColors, 5, rmeTicks, '%');
sizeLegend(1103, 821.7, 29.7);
</script>
</body>
</html>
